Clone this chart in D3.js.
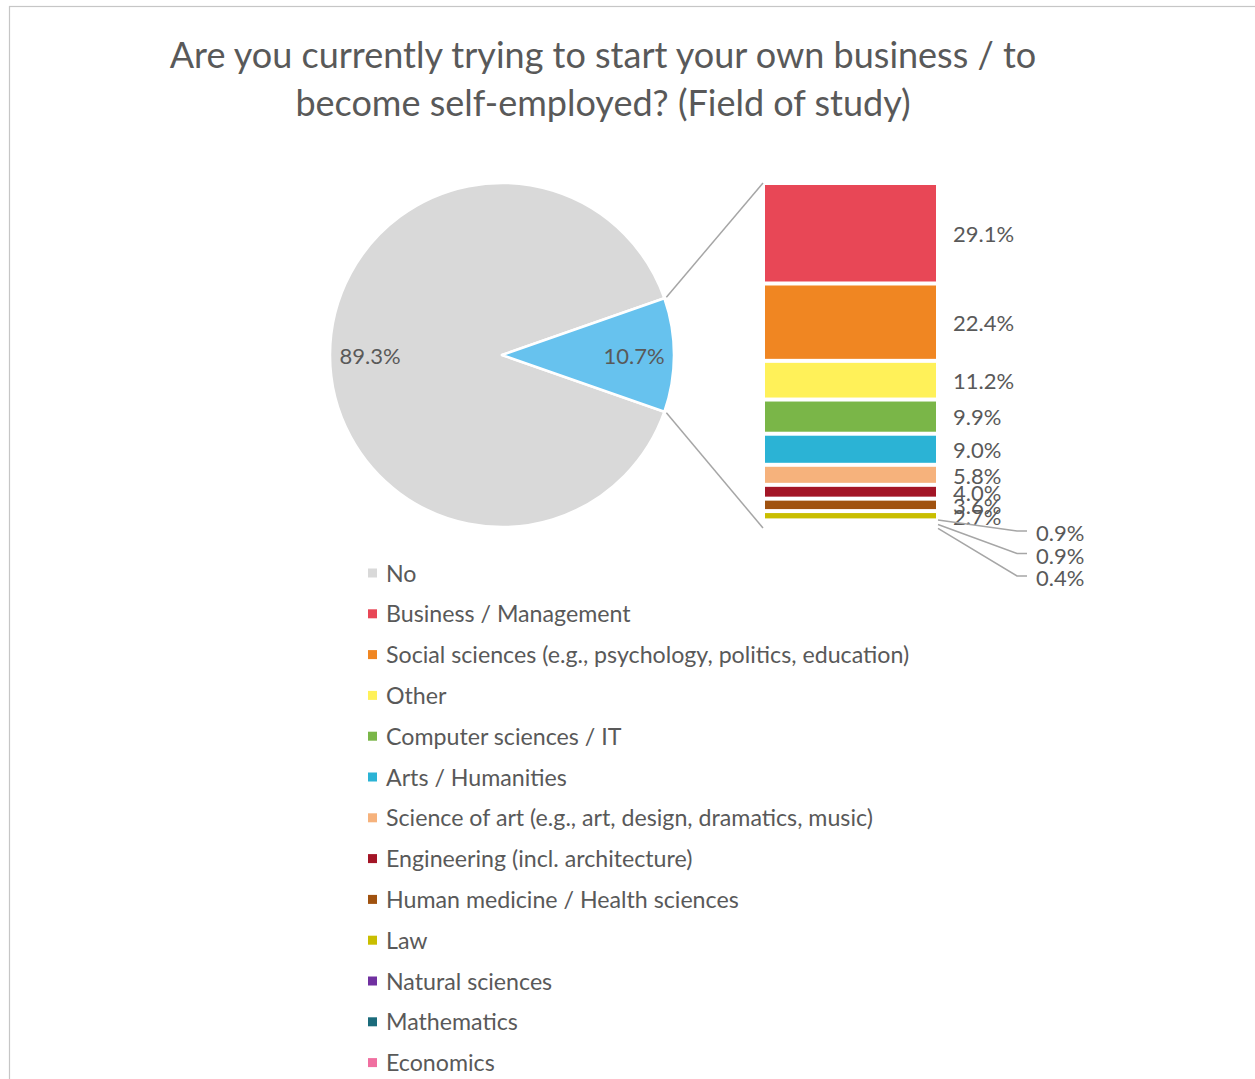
<!DOCTYPE html>
<html>
<head>
<meta charset="utf-8">
<script src="https://cdn.jsdelivr.net/npm/d3@7"></script>
<style>
  html, body { margin: 0; padding: 0; background: #fff; }
  svg { display: block; font-family: Lato, "Noto Sans", sans-serif; }
</style>
</head>
<body>
<svg id="chart" width="1255" height="1079"></svg>
<script>
// Pie: share of respondents trying to start a business
const pieLabels = ["No", "Yes"];
const pieValues = [89.3, 10.7];
const pieColors = ["#d9d9d9", "#67c2ee"];

// Bar of pie: breakdown of the "Yes" slice by field of study
const fields = [
  "Business / Management",
  "Social sciences (e.g., psychology, politics, education)",
  "Other",
  "Computer sciences / IT",
  "Arts / Humanities",
  "Science of art (e.g., art, design, dramatics, music)",
  "Engineering (incl. architecture)",
  "Human medicine / Health sciences",
  "Law",
  "Natural sciences",
  "Mathematics",
  "Economics"
];
const fieldValues = [29.1, 22.4, 11.2, 9.9, 9.0, 5.8, 4.0, 3.6, 2.7, 0.9, 0.9, 0.4];
const fieldColors = [
  "#e84756", "#f08622", "#fff159", "#7ab648", "#2bb3d5", "#f6b27c",
  "#a31526", "#a0520f", "#c9be00", "#7030a0", "#1b6b7b", "#f06fa0"
];

const titleLines = [
  "Are you currently trying to start your own business / to",
  "become self-employed? (Field of study)"
];

const textColor = "#595959";
const svg = d3.select("#chart");

// outer frame
svg.append("rect")
  .attr("x", 9.5).attr("y", 6.5)
  .attr("width", 1300).attr("height", 1100)
  .attr("fill", "none").attr("stroke", "#c6c6c6").attr("stroke-width", 1.2);

// title
svg.append("g").selectAll("text").data(titleLines).join("text")
  .attr("x", 603).attr("y", (d, i) => 68 + i * 48)
  .attr("text-anchor", "middle")
  .attr("font-size", 36)
  .attr("fill", textColor)
  .text(d => d);

// ---- pie ----
const cx = 502, cy = 355, R = 172;
const yesFrac = pieValues[1] / d3.sum(pieValues);
const start = Math.PI / 2 + yesFrac * Math.PI;
const pie = d3.pie().sort(null).value(d => d)
  .startAngle(start).endAngle(start + 2 * Math.PI);
const arcs = pie(pieValues);
const arc = d3.arc().innerRadius(0).outerRadius(R);
const labelArc = d3.arc().innerRadius(132).outerRadius(132);

const gPie = svg.append("g").attr("transform", `translate(${cx},${cy})`);
gPie.selectAll("path").data(arcs).join("path")
  .attr("d", arc)
  .attr("fill", (d, i) => pieColors[i])
  .attr("stroke", "#fff").attr("stroke-width", 2.5)
  .attr("stroke-linejoin", "round");

gPie.selectAll("text").data(arcs).join("text")
  .attr("transform", d => `translate(${labelArc.centroid(d)})`)
  .attr("text-anchor", "middle")
  .attr("dy", "0.42em")
  .attr("font-size", 22)
  .attr("fill", textColor)
  .text(d => d3.format(".1f")(d.value) + "%");

// ---- stacked bar ----
const barX = 765, barW = 171, barTop = 183, barBottom = 528;
const total = d3.sum(fieldValues);
const y = d3.scaleLinear().domain([0, total]).range([barTop, barBottom]);
let acc = 0;
const segs = fieldValues.map((v, i) => {
  const s = { i, v, y0: acc, y1: acc + v };
  acc += v;
  return s;
});

const gBar = svg.append("g");
gBar.selectAll("rect").data(segs).join("rect")
  .attr("x", barX)
  .attr("width", barW)
  .attr("y", d => y(d.y0) + 2)
  .attr("height", d => Math.max(0, y(d.y1) - y(d.y0) - 4))
  .attr("fill", d => fieldColors[d.i]);

// connector lines from the "Yes" slice to the bar
const yesArc = arcs[1];
const pTop = [cx + R * Math.sin(yesArc.startAngle), cy - R * Math.cos(yesArc.startAngle)];
const pBot = [cx + R * Math.sin(yesArc.endAngle), cy - R * Math.cos(yesArc.endAngle)];
svg.append("line")
  .attr("x1", pTop[0] + 2).attr("y1", pTop[1] - 1)
  .attr("x2", barX - 2).attr("y2", barTop)
  .attr("stroke", "#a6a6a6").attr("stroke-width", 1.5);
svg.append("line")
  .attr("x1", pBot[0] + 2).attr("y1", pBot[1] + 1)
  .attr("x2", barX - 2).attr("y2", barBottom)
  .attr("stroke", "#a6a6a6").attr("stroke-width", 1.5);

// value labels: inline for larger segments, leader lines for the smallest
const inline = segs.filter(d => d.v >= 1);
const called = segs.filter(d => d.v < 1);
gBar.selectAll("text.inl").data(inline).join("text")
  .attr("class", "inl")
  .attr("x", 953)
  .attr("y", d => y((d.y0 + d.y1) / 2))
  .attr("dy", "0.4em")
  .attr("font-size", 22)
  .attr("fill", textColor)
  .text(d => d3.format(".1f")(d.v) + "%");

const gCall = svg.append("g");
called.forEach((d, k) => {
  const ly = barBottom + 3 + k * 22.5;
  const sy = y((d.y0 + d.y1) / 2) - 2 + k * 1.5;
  gCall.append("polyline")
    .attr("points", `${barX + barW + 2},${sy} 1017,${ly} 1027,${ly}`)
    .attr("fill", "none").attr("stroke", "#a6a6a6").attr("stroke-width", 1.5);
  gCall.append("text")
    .attr("x", 1036).attr("y", ly + 2)
    .attr("dy", "0.38em")
    .attr("font-size", 22)
    .attr("fill", textColor)
    .text(d3.format(".1f")(d.v) + "%");
});

// ---- legend ----
const legendNames = [pieLabels[0]].concat(fields);
const legendColors = [pieColors[0]].concat(fieldColors);
const gLeg = svg.append("g");
const rows = gLeg.selectAll("g").data(legendNames).join("g")
  .attr("transform", (d, i) => `translate(368,${573 + i * 40.8})`);
rows.append("rect")
  .attr("x", 0).attr("y", -4.5).attr("width", 9).attr("height", 9)
  .attr("fill", (d, i) => legendColors[i]);
rows.append("text")
  .attr("x", 18).attr("dy", "0.37em")
  .attr("font-size", 23.2)
  .attr("fill", textColor)
  .text(d => d);
</script>
</body>
</html>
